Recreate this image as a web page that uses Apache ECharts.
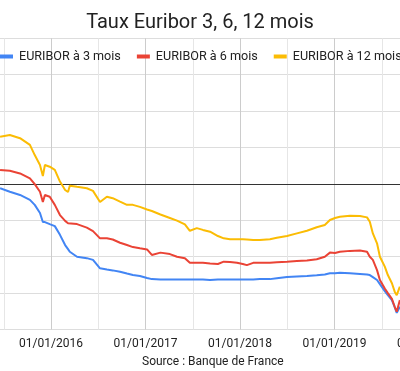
<!DOCTYPE html>
<html>
<head>
<meta charset="utf-8">
<script src="https://cdn.jsdelivr.net/npm/echarts@6/dist/echarts.min.js"></script>
<style>
html,body{margin:0;padding:0;background:#fff;}
#chart{width:400px;height:371px;}
</style>
</head>
<body>
<div id="chart"></div>
<script>
const dates = [
'2015-06-17','2015-07-25','2015-09-03','2015-10-11','2015-10-30','2015-11-19','2015-11-30','2015-12-08','2015-12-27',
'2016-01-16','2016-02-05','2016-02-24','2016-03-06','2016-03-13','2016-04-10','2016-05-18','2016-06-11','2016-07-08',
'2016-08-04','2016-08-27','2016-09-24','2016-10-21','2016-11-13','2016-12-10',
'2017-01-07','2017-01-26','2017-02-26','2017-04-04','2017-05-01','2017-06-01','2017-06-20','2017-07-17','2017-08-10',
'2017-09-07','2017-10-07','2017-10-30','2017-11-23','2017-12-20',
'2018-01-12','2018-01-28','2018-02-20','2018-03-17','2018-04-25','2018-05-22','2018-06-30','2018-08-08','2018-09-16',
'2018-10-24','2018-11-24','2018-12-14',
'2019-01-03','2019-01-22','2019-02-28','2019-04-08','2019-05-05','2019-05-16','2019-05-28','2019-06-13','2019-06-24',
'2019-07-13','2019-07-25','2019-08-10','2019-08-21','2019-08-29','2019-09-10'
];

const euribor3m = [
-0.015,-0.027,-0.038,-0.055,-0.072,-0.100,-0.131,-0.131,-0.138,
-0.145,-0.175,-0.210,-0.224,-0.233,-0.250,-0.255,-0.261,-0.290,
-0.294,-0.297,-0.302,-0.308,-0.313,-0.316,
-0.323,-0.327,-0.328,-0.328,-0.328,-0.328,-0.328,-0.328,-0.328,
-0.330,-0.328,-0.328,-0.328,-0.328,
-0.328,-0.328,-0.328,-0.327,-0.327,-0.324,-0.320,-0.318,-0.316,
-0.314,-0.311,-0.307,
-0.307,-0.305,-0.307,-0.309,-0.311,-0.313,-0.320,-0.330,-0.344,
-0.368,-0.382,-0.399,-0.423,-0.443,-0.422
];

const euribor6m = [
0.048,0.045,0.036,0.019,-0.001,-0.027,-0.062,-0.038,-0.044,
-0.072,-0.107,-0.127,-0.135,-0.130,-0.138,-0.150,-0.162,-0.187,
-0.187,-0.191,-0.202,-0.210,-0.217,-0.221,
-0.225,-0.244,-0.236,-0.241,-0.250,-0.255,-0.271,-0.271,-0.271,
-0.273,-0.275,-0.267,-0.268,-0.271,
-0.275,-0.279,-0.271,-0.271,-0.271,-0.269,-0.267,-0.265,-0.263,
-0.259,-0.250,-0.236,
-0.237,-0.233,-0.230,-0.229,-0.233,-0.250,-0.261,-0.296,-0.330,
-0.359,-0.375,-0.395,-0.422,-0.439,-0.399
];

const euribor12m = [
0.162,0.168,0.157,0.134,0.099,0.065,0.027,0.065,0.059,
0.048,0.008,-0.021,-0.028,-0.006,-0.010,-0.015,-0.024,-0.062,
-0.044,-0.049,-0.061,-0.072,-0.072,-0.079,
-0.088,-0.093,-0.105,-0.117,-0.126,-0.139,-0.161,-0.152,-0.158,
-0.164,-0.179,-0.187,-0.190,-0.190,
-0.190,-0.191,-0.193,-0.193,-0.190,-0.185,-0.179,-0.170,-0.161,
-0.149,-0.141,-0.124,
-0.117,-0.113,-0.109,-0.110,-0.115,-0.130,-0.170,-0.204,-0.250,
-0.284,-0.313,-0.341,-0.370,-0.382,-0.353
];

const seriesNames = ['EURIBOR à 3 mois','EURIBOR à 6 mois','EURIBOR à 12 mois'];
const tickYears = [2015,2016,2017,2018,2019,2020,2021];

// months elapsed since 01/01/2015
function toMonths(s){
  const p = s.split('-').map(Number);
  const dim = new Date(p[0], p[1], 0).getDate();
  return (p[0]-2015)*12 + (p[1]-1) + (p[2]-1)/dim;
}
const xs = dates.map(toMonths);
const pairs = arr => arr.map((v,i)=>[xs[i], v]);

const FONT = 'Roboto, "Noto Sans", sans-serif';
const chart = echarts.init(document.getElementById('chart'), null, {renderer:'canvas'});
chart.setOption({
  animation:false,
  backgroundColor:'#fff',
  color:['#4285F4','#EA4335','#FBBC04'],
  title:[
    {text:'Taux Euribor 3, 6, 12 mois', left:'center', top:8,
     textStyle:{fontFamily:FONT, fontSize:20, fontWeight:'normal', color:'#222'}},
    {text:'Source : Banque de France', left:137, top:351,
     textStyle:{fontFamily:FONT, fontSize:12, fontWeight:'normal', color:'#222'}}
  ],
  legend:{
    left:-5, top:45, width:900, icon:'rect', itemWidth:13, itemHeight:4, itemGap:16,
    textStyle:{fontFamily:FONT, fontSize:12.6, color:'#222', padding:[0,0,0,1]},
    data:seriesNames
  },
  grid:{left:-43.5, right:-123.5, top:38.3, bottom:41.5, containLabel:false, outerBoundsMode:'none'},
  xAxis:{
    type:'value', min:0, max:72, interval:12,
    axisLine:{show:false}, axisTick:{show:false},
    axisLabel:{fontFamily:FONT, fontSize:12, color:'#222', margin:8,
      formatter:v => (v % 12 === 0) ? '01/01/' + tickYears[v/12] : ''},
    splitLine:{show:true, lineStyle:{color:'#cccccc', width:1}},
    minorTick:{show:false, splitNumber:2},
    minorSplitLine:{show:true, lineStyle:{color:'#e6e6e6', width:1}}
  },
  yAxis:{
    type:'value', min:-0.5, max:0.5, interval:0.125,
    axisLine:{show:false}, axisTick:{show:false}, axisLabel:{show:false},
    splitLine:{show:true, lineStyle:{color:'#dddddd', width:1}}
  },
  series:[
    {name:seriesNames[0], type:'line', data:pairs(euribor3m), showSymbol:false, symbol:'none',
     lineStyle:{width:2}, z:3,
     markLine:{silent:true, symbol:'none', label:{show:false},
       lineStyle:{color:'#333', width:1, type:'solid'}, data:[{yAxis:0}], z:1}},
    {name:seriesNames[1], type:'line', data:pairs(euribor6m), showSymbol:false, symbol:'none',
     lineStyle:{width:2}, z:4},
    {name:seriesNames[2], type:'line', data:pairs(euribor12m), showSymbol:false, symbol:'none',
     lineStyle:{width:2}, z:5}
  ]
});
</script>
</body>
</html>
